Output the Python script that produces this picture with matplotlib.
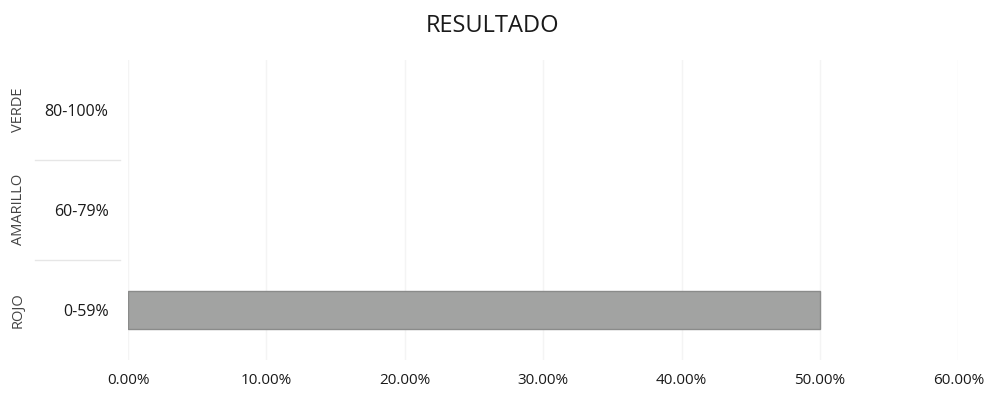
import matplotlib.pyplot as plt
from matplotlib.transforms import blended_transform_factory

# categories bottom -> top
groups = ['ROJO', 'AMARILLO', 'VERDE']
ranges = ['0-59%', '60-79%', '80-100%']
values = [0.50, 0.0, 0.0]
x_ticks = [0.0, 0.1, 0.2, 0.3, 0.4, 0.5, 0.6]

plt.rcParams['font.family'] = ['Open Sans', 'DejaVu Sans']

fig = plt.figure(figsize=(9.85, 3.93), dpi=100)
ax = fig.add_axes([0.130, 0.085, 0.843, 0.762])

pos = list(range(len(groups)))
bars = ax.barh(pos, values, height=0.38, color='#a2a3a2', zorder=3)
for b, v in zip(bars, values):
    if v > 0:
        b.set_edgecolor('#8a8b8a')
        b.set_linewidth(1.0)

ax.set_xlim(0, 0.6)
ax.set_ylim(-0.5, len(groups) - 0.5)
ax.set_xticks(x_ticks)
ax.set_xticklabels([f'{t * 100:.2f}%' for t in x_ticks], fontsize=11,
                   color='#1a1a1a')
ax.tick_params(axis='x', length=0, pad=10)
ax.set_yticks(pos)
ax.set_yticklabels(ranges, fontsize=11.5, color='#1a1a1a')
ax.tick_params(axis='y', length=0, pad=14)
ax.grid(axis='x', color='#f4f4f4', linewidth=1.0, zorder=0)
for side in ax.spines.values():
    side.set_visible(False)

# outer group labels, rotated
trans = blended_transform_factory(fig.transFigure, ax.transData)
for p, g in zip(pos, groups):
    ax.text(18 / 985, p, g, transform=trans, rotation=90, ha='center',
            va='center', fontsize=10.5, color='#444444')
# faint separators between groups in the label area
for p in pos[:-1]:
    ax.plot([35 / 985, 120 / 985], [p + 0.5, p + 0.5], transform=trans,
            color='#e6e6e6', linewidth=1.0, clip_on=False)

fig.suptitle('RESULTADO', y=0.965, fontsize=17, color='#1a1a1a')

fig.savefig('out.png', dpi=100)
